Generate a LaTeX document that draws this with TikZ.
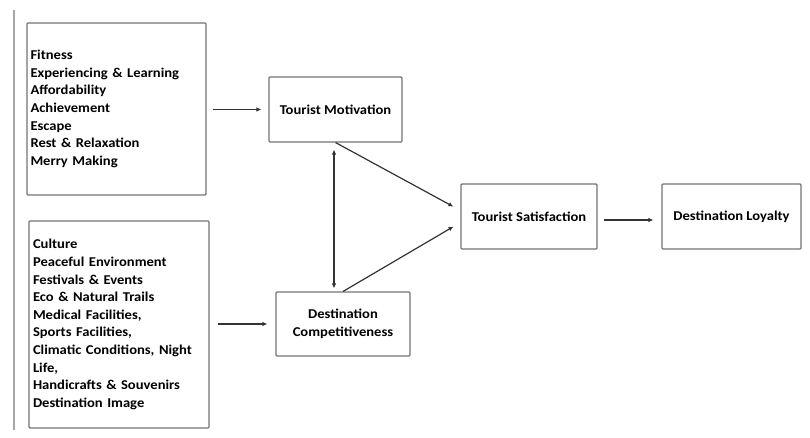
\documentclass[tikz,border=0pt]{standalone}
\usepackage{fontspec}
\setmainfont{Carlito}[FakeStretch=1.08]
\usetikzlibrary{arrows.meta, positioning}

\begin{document}
\begin{tikzpicture}[x=1pt, y=-1pt, >={Latex[length=5pt,width=4.5pt]}]
	\tikzstyle{box}=[draw=black!55, line width=1.1pt, rounded corners=1pt, font=\bfseries\fontsize{13.5}{18}\selectfont, align=center, inner sep=0pt]
	\tikzstyle{listbox}=[box, align=left, text width=172pt, font=\bfseries\fontsize{13.5}{17.6}\selectfont]
	\tikzstyle{link}=[draw=black!80, line width=1.2pt]

	\useasboundingbox (0,0) rectangle (810,438);
	\draw [black!35, line width=2pt] (14,10) -- (14,430);

	% Factors
	\node at (116.5, 109) [listbox, minimum width=179pt, minimum height=172pt] (motives)
		{Fitness\\Experiencing \& Learning\\Affordability\\Achievement\\Escape\\Rest \& Relaxation\\Merry Making};
	\node at (119, 324.5) [listbox, minimum width=180pt, minimum height=207pt] (attributes)
		{Culture\\Peaceful Environment\\Festivals \& Events\\Eco \& Natural Trails\\Medical Facilities,\\Sports Facilities,\\Climatic Conditions, Night\\Life,\\Handicrafts \& Souvenirs\\Destination Image};

	% Constructs
	\node at (335.5, 109.5) [box, minimum width=133pt, minimum height=65pt] (motivation) {Tourist Motivation};
	\node at (343, 324) [box, minimum width=134pt, minimum height=64pt] (competitiveness) {Destination\\Competitiveness};
	\node at (529, 216.5) [box, minimum width=136pt, minimum height=65pt] (satisfaction) {Tourist Satisfaction};
	\node at (731.5, 216.5) [box, minimum width=139pt, minimum height=65pt] (loyalty) {Destination Loyalty};

	% Factors -> Constructs
	\draw [link, ->, shorten <=6pt, shorten >=7pt] (motives.east |- motivation) to (motivation.west);
	\draw [link, ->, shorten <=8pt, shorten >=8pt] (attributes.east |- competitiveness) to (competitiveness.west);

	% Constructs -> Satisfaction -> Loyalty
	\draw [link, <->, shorten <=7pt, shorten >=3pt] ([xshift=-1.5pt]motivation.south) to ([xshift=-9pt]competitiveness.north);
	\draw [link, ->, shorten >=8pt] (motivation.south) to ([yshift=6pt]satisfaction.west);
	\draw [link, ->, shorten >=8pt] (competitiveness.north) to ([yshift=-6pt]satisfaction.west);
	\draw [link, ->, shorten <=6pt, shorten >=8pt] ([yshift=-3.5pt]satisfaction.east) to ([yshift=-3.5pt]loyalty.west);
\end{tikzpicture}
\end{document}
